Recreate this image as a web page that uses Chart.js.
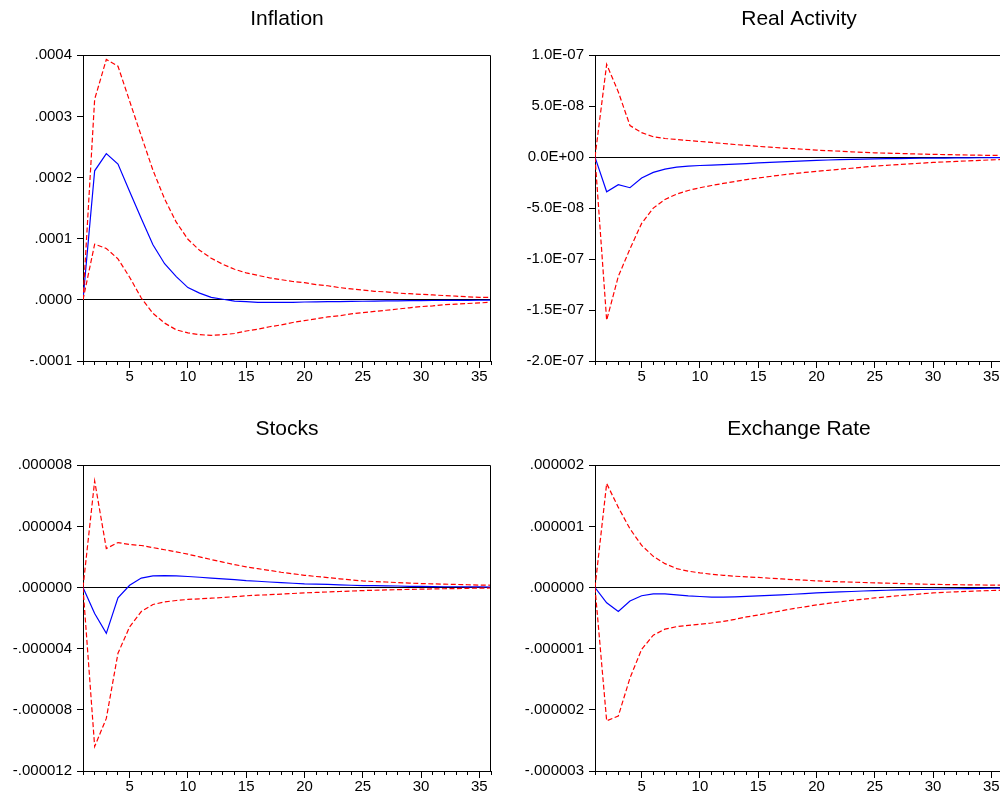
<!DOCTYPE html>
<html>
<head>
<meta charset="utf-8">
<script src="https://cdn.jsdelivr.net/npm/chart.js@4.4.0/dist/chart.umd.min.js"></script>
<style>
html,body{margin:0;padding:0;background:#fff;overflow:hidden;width:1000px;height:794px;}
.panel{position:absolute;width:500px;height:397px;}
canvas{display:block;}
</style>
</head>
<body>
<div class="panel" style="left:0px;top:0px"><canvas id="c1" width="500" height="397"></canvas></div>
<div class="panel" style="left:512px;top:0px"><canvas id="c2" width="500" height="397"></canvas></div>
<div class="panel" style="left:0px;top:410px"><canvas id="c3" width="500" height="397"></canvas></div>
<div class="panel" style="left:512px;top:410px"><canvas id="c4" width="500" height="397"></canvas></div>
<script>
// ---------- data ----------
const periods = [1,2,3,4,5,6,7,8,9,10,11,12,13,14,15,16,17,18,19,20,21,22,23,24,25,26,27,28,29,30,31,32,33,34,35,36];
const majorXTicks = [5,10,15,20,25,30,35];

const titles = ['Inflation', 'Real Activity', 'Stocks', 'Exchange Rate'];

// Inflation
const inflationResponse = [0, 0.000211, 0.000239, 0.000222, 0.000177, 0.000133, 0.000090, 0.000059, 0.000038, 0.000020, 0.000011, 0.000004, 0.000001, -0.000002, -0.000003, -0.000004, -0.000004, -0.000004, -0.000004, -0.0000035, -0.0000033, -0.000003, -0.0000028, -0.0000025, -0.0000023, -0.000002, -0.0000018, -0.0000016, -0.0000014, -0.0000012, -0.0000011, -0.000001, -0.0000009, -0.0000008, -0.0000007, -0.0000006];
const inflationUpper = [0, 0.000328, 0.000393, 0.000382, 0.000325, 0.000268, 0.000212, 0.000165, 0.000127, 0.000099, 0.000081, 0.000068, 0.000058, 0.000050, 0.000044, 0.000040, 0.000036, 0.000033, 0.000030, 0.000028, 0.000025, 0.000023, 0.000020, 0.000018, 0.000016, 0.000014, 0.000013, 0.000011, 0.000010, 0.000009, 0.000008, 0.000007, 0.000006, 0.000005, 0.000004, 0.000004];
const inflationLower = [0, 0.000091, 0.000084, 0.000067, 0.000037, 0.000003, -0.000022, -0.000038, -0.000049, -0.000054, -0.000057, -0.000058, -0.000057, -0.000055, -0.000051, -0.000048, -0.000044, -0.000041, -0.000037, -0.000034, -0.000031, -0.000028, -0.000026, -0.000023, -0.000021, -0.000019, -0.000017, -0.000015, -0.000013, -0.000011, -0.000010, -0.000008, -0.000007, -0.000006, -0.000005, -0.000004];
const inflationTickValues = [-0.0001, 0, 0.0001, 0.0002, 0.0003, 0.0004];
const inflationTickLabels = ['-.0001', '.0000', '.0001', '.0002', '.0003', '.0004'];

// Real Activity
const realResponse = [0, -3.4e-8, -2.7e-8, -3.0e-8, -2.05e-8, -1.5e-8, -1.18e-8, -0.98e-8, -0.88e-8, -0.82e-8, -0.78e-8, -0.74e-8, -0.69e-8, -0.63e-8, -0.57e-8, -0.52e-8, -0.46e-8, -0.41e-8, -0.36e-8, -0.31e-8, -0.28e-8, -0.25e-8, -0.22e-8, -0.2e-8, -0.17e-8, -0.15e-8, -0.14e-8, -0.12e-8, -0.11e-8, -0.1e-8, -0.09e-8, -0.08e-8, -0.07e-8, -0.06e-8, -0.05e-8, -0.05e-8];
const realUpper = [0, 9.1e-8, 6.4e-8, 3.1e-8, 2.4e-8, 2.0e-8, 1.83e-8, 1.73e-8, 1.63e-8, 1.54e-8, 1.44e-8, 1.34e-8, 1.24e-8, 1.15e-8, 1.06e-8, 0.98e-8, 0.9e-8, 0.83e-8, 0.76e-8, 0.69e-8, 0.63e-8, 0.58e-8, 0.52e-8, 0.47e-8, 0.42e-8, 0.39e-8, 0.36e-8, 0.33e-8, 0.3e-8, 0.27e-8, 0.25e-8, 0.23e-8, 0.21e-8, 0.19e-8, 0.17e-8, 0.16e-8];
const realLower = [0, -16.0e-8, -11.7e-8, -9.0e-8, -6.5e-8, -5.0e-8, -4.15e-8, -3.63e-8, -3.27e-8, -3.0e-8, -2.78e-8, -2.58e-8, -2.39e-8, -2.2e-8, -2.05e-8, -1.9e-8, -1.75e-8, -1.62e-8, -1.5e-8, -1.4e-8, -1.29e-8, -1.19e-8, -1.09e-8, -0.98e-8, -0.88e-8, -0.8e-8, -0.73e-8, -0.66e-8, -0.59e-8, -0.52e-8, -0.47e-8, -0.42e-8, -0.37e-8, -0.32e-8, -0.27e-8, -0.23e-8];
const realTickValues = [-2.0e-7, -1.5e-7, -1.0e-7, -5.0e-8, 0, 5.0e-8, 1.0e-7];
const realTickLabels = ['-2.0E-07', '-1.5E-07', '-1.0E-07', '-5.0E-08', '0.0E+00', '5.0E-08', '1.0E-07'];

// Stocks
const stocksResponse = [0, -1.7e-6, -3.0e-6, -0.68e-6, 0.15e-6, 0.62e-6, 0.76e-6, 0.78e-6, 0.76e-6, 0.72e-6, 0.67e-6, 0.62e-6, 0.57e-6, 0.52e-6, 0.45e-6, 0.41e-6, 0.36e-6, 0.32e-6, 0.28e-6, 0.24e-6, 0.22e-6, 0.2e-6, 0.17e-6, 0.15e-6, 0.13e-6, 0.12e-6, 0.11e-6, 0.1e-6, 0.08e-6, 0.07e-6, 0.06e-6, 0.05e-6, 0.05e-6, 0.04e-6, 0.04e-6, 0.03e-6];
const stocksUpper = [0, 6.97e-6, 2.55e-6, 2.94e-6, 2.81e-6, 2.75e-6, 2.61e-6, 2.47e-6, 2.33e-6, 2.18e-6, 2.0e-6, 1.83e-6, 1.66e-6, 1.5e-6, 1.35e-6, 1.23e-6, 1.12e-6, 1.0e-6, 0.9e-6, 0.8e-6, 0.72e-6, 0.65e-6, 0.57e-6, 0.5e-6, 0.43e-6, 0.39e-6, 0.36e-6, 0.32e-6, 0.29e-6, 0.26e-6, 0.24e-6, 0.22e-6, 0.2e-6, 0.18e-6, 0.16e-6, 0.15e-6];
const stocksLower = [0, -10.4e-6, -8.56e-6, -4.3e-6, -2.57e-6, -1.57e-6, -1.11e-6, -0.94e-6, -0.85e-6, -0.78e-6, -0.74e-6, -0.7e-6, -0.65e-6, -0.6e-6, -0.54e-6, -0.5e-6, -0.47e-6, -0.43e-6, -0.39e-6, -0.35e-6, -0.32e-6, -0.29e-6, -0.26e-6, -0.23e-6, -0.2e-6, -0.18e-6, -0.16e-6, -0.14e-6, -0.12e-6, -0.11e-6, -0.09e-6, -0.08e-6, -0.07e-6, -0.05e-6, -0.04e-6, -0.03e-6];
const stocksTickValues = [-12e-6, -8e-6, -4e-6, 0, 4e-6, 8e-6];
const stocksTickLabels = ['-.000012', '-.000008', '-.000004', '.000000', '.000004', '.000008'];

// Exchange Rate
const fxResponse = [0, -0.25e-6, -0.39e-6, -0.22e-6, -0.135e-6, -0.103e-6, -0.103e-6, -0.12e-6, -0.136e-6, -0.147e-6, -0.156e-6, -0.158e-6, -0.153e-6, -0.146e-6, -0.138e-6, -0.128e-6, -0.119e-6, -0.11e-6, -0.1e-6, -0.088e-6, -0.08e-6, -0.072e-6, -0.065e-6, -0.057e-6, -0.05e-6, -0.045e-6, -0.04e-6, -0.036e-6, -0.032e-6, -0.028e-6, -0.024e-6, -0.02e-6, -0.017e-6, -0.014e-6, -0.012e-6, -0.01e-6];
const fxUpper = [0, 1.70e-6, 1.31e-6, 0.96e-6, 0.69e-6, 0.51e-6, 0.39e-6, 0.31e-6, 0.267e-6, 0.24e-6, 0.218e-6, 0.2e-6, 0.185e-6, 0.174e-6, 0.165e-6, 0.152e-6, 0.14e-6, 0.13e-6, 0.12e-6, 0.108e-6, 0.1e-6, 0.094e-6, 0.088e-6, 0.082e-6, 0.076e-6, 0.071e-6, 0.066e-6, 0.061e-6, 0.056e-6, 0.052e-6, 0.049e-6, 0.046e-6, 0.044e-6, 0.042e-6, 0.04e-6, 0.038e-6];
const fxLower = [0, -2.18e-6, -2.10e-6, -1.48e-6, -1.01e-6, -0.78e-6, -0.68e-6, -0.64e-6, -0.62e-6, -0.60e-6, -0.58e-6, -0.555e-6, -0.52e-6, -0.48e-6, -0.45e-6, -0.415e-6, -0.38e-6, -0.345e-6, -0.315e-6, -0.284e-6, -0.26e-6, -0.235e-6, -0.21e-6, -0.19e-6, -0.17e-6, -0.152e-6, -0.135e-6, -0.12e-6, -0.104e-6, -0.088e-6, -0.078e-6, -0.07e-6, -0.062e-6, -0.055e-6, -0.049e-6, -0.044e-6];
const fxTickValues = [-3e-6, -2e-6, -1e-6, 0, 1e-6, 2e-6];
const fxTickLabels = ['-.000003', '-.000002', '-.000001', '.000000', '.000001', '.000002'];

// ---------- drawing ----------
const FONT = "'Liberation Sans', Arial, sans-serif";

const framePlugin = {
  id: 'frame',
  afterDatasetsDraw(chart) {
    const a = chart.chartArea, ctx = chart.ctx;
    ctx.save();
    ctx.strokeStyle = '#000';
    ctx.lineWidth = 1;
    ctx.beginPath();
    ctx.moveTo(a.left, Math.round(a.top) + 0.5);
    ctx.lineTo(Math.round(a.right) - 0.5, Math.round(a.top) + 0.5);
    ctx.lineTo(Math.round(a.right) - 0.5, a.bottom);
    ctx.stroke();
    ctx.restore();
  }
};

function makePanel(id, title, resp, upper, lower, tickValues, tickLabels) {
  const ctx = document.getElementById(id).getContext('2d');
  return new Chart(ctx, {
    type: 'line',
    data: {
      labels: periods,
      datasets: [
        { data: upper, borderColor: '#ff0000', borderWidth: 1.2, borderDash: [5, 2.5], pointRadius: 0, tension: 0, fill: false },
        { data: lower, borderColor: '#ff0000', borderWidth: 1.2, borderDash: [5, 2.5], pointRadius: 0, tension: 0, fill: false },
        { data: resp, borderColor: '#0000ff', borderWidth: 1.2, pointRadius: 0, tension: 0, fill: false }
      ]
    },
    options: {
      responsive: false,
      animation: false,
      devicePixelRatio: 1,
      layout: { padding: { left: 0, right: 9, top: 0, bottom: 0 } },
      plugins: {
        legend: { display: false },
        tooltip: { enabled: false },
        title: {
          display: true, text: title, fullSize: false, color: '#000',
          font: { family: FONT, size: 21, weight: 'normal', lineHeight: 1.2 },
          padding: { top: 7, bottom: 23 }
        }
      },
      scales: {
        x2: {
          type: 'linear', min: 1, max: 36, position: 'bottom', weight: 0,
          afterBuildTicks(s) { s.ticks = periods.map(v => ({ value: v })); },
          afterFit(s) { s.height = 0; },
          grid: { drawOnChartArea: false, tickLength: 4, tickColor: '#000', tickWidth: 1 },
          border: { display: false },
          ticks: { display: false }
        },
        x: {
          type: 'linear', min: 1, max: 36, position: 'bottom', weight: 1,
          afterBuildTicks(s) { s.ticks = majorXTicks.map(v => ({ value: v })); },
          afterFit(s) { s.height = 36; },
          grid: { drawOnChartArea: false, tickLength: 7, tickColor: '#000', tickWidth: 1 },
          border: { display: true, color: '#000', width: 1 },
          ticks: { autoSkip: false, maxRotation: 0, padding: 0, color: '#000', font: { family: FONT, size: 15 }, callback: v => String(v) }
        },
        y: {
          type: 'linear', min: tickValues[0], max: tickValues[tickValues.length - 1],
          afterBuildTicks(s) { s.ticks = tickValues.map(v => ({ value: v })); },
          afterFit(s) { s.width = 83; },
          grid: {
            drawOnChartArea: true, tickLength: 6, tickColor: '#000', tickWidth: 1,
            color: c => (c.tick && Math.abs(c.tick.value) < 1e-15) ? '#000' : 'rgba(0,0,0,0)',
            lineWidth: 1
          },
          border: { display: true, color: '#000', width: 1 },
          ticks: { padding: 5, color: '#000', font: { family: FONT, size: 15 }, callback: (v, i) => tickLabels[i] }
        }
      }
    },
    plugins: [framePlugin]
  });
}

makePanel('c1', titles[0], inflationResponse, inflationUpper, inflationLower, inflationTickValues, inflationTickLabels);
makePanel('c2', titles[1], realResponse, realUpper, realLower, realTickValues, realTickLabels);
makePanel('c3', titles[2], stocksResponse, stocksUpper, stocksLower, stocksTickValues, stocksTickLabels);
makePanel('c4', titles[3], fxResponse, fxUpper, fxLower, fxTickValues, fxTickLabels);
</script>
</body>
</html>
